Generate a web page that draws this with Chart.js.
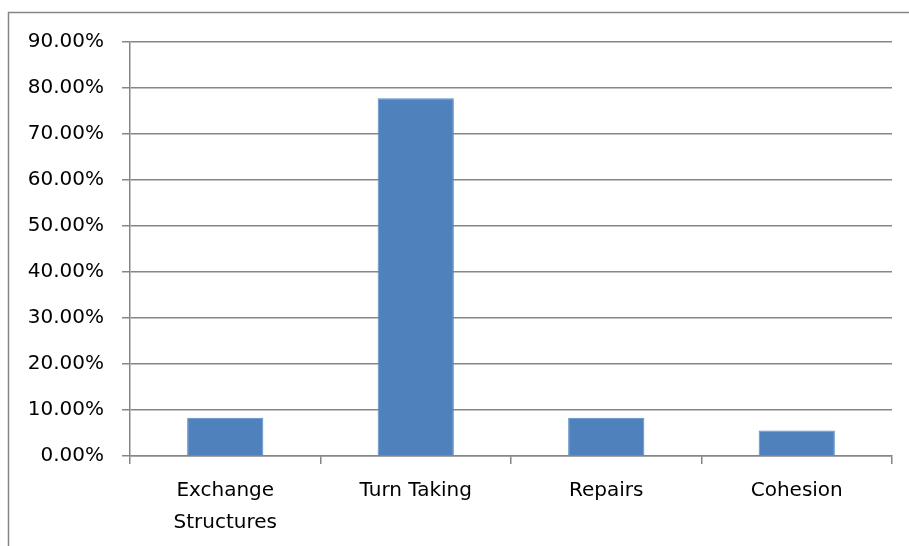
<!DOCTYPE html>
<html><head><meta charset="utf-8">
<script src="https://cdn.jsdelivr.net/npm/chart.js@4/dist/chart.umd.min.js"></script>
<style>html,body{margin:0;padding:0;background:#fff;}#wrap{position:relative;width:909px;height:546px;}</style>
</head><body><div id="wrap"><canvas id="c" width="909" height="546"></canvas></div>
<script>
const categories = [["Exchange","Structures"], "Turn Taking", "Repairs", "Cohesion"];
const values = [8.33, 77.78, 8.33, 5.56];
const yTicks = [0, 10, 20, 30, 40, 50, 60, 70, 80, 90];

const frame = {
  id: 'frame',
  beforeDraw(chart) {
    const ctx = chart.ctx;
    ctx.save();
    ctx.fillStyle = '#fff';
    ctx.fillRect(0, 0, chart.width, chart.height);
    ctx.strokeStyle = '#868686';
    ctx.lineWidth = 1.5;
    ctx.strokeRect(8.5, 12.5, 920, 600);
    ctx.restore();
  }
};

new Chart(document.getElementById('c'), {
  type: 'bar',
  data: { labels: categories, datasets: [{ data: values, backgroundColor: '#4F81BD', borderColor: '#5a8cc6', borderWidth: 1, barPercentage: 0.4, categoryPercentage: 1 }] },
  plugins: [frame],
  options: {
    responsive: false, animation: false,
    layout: { padding: { top: 42, right: 17, left: 0, bottom: 0 } },
    plugins: { legend: { display: false }, tooltip: { enabled: false } },
    scales: {
      x: {
        afterFit(s) { s.height = 90; },
        grid: { display: true, drawOnChartArea: false, drawTicks: true, tickLength: 8, color: '#868686', lineWidth: 1.5, offset: true },
        border: { color: '#868686', width: 1.5 },
        ticks: { color: '#000', padding: 11, maxRotation: 0, font: { family: 'DejaVu Sans', size: 20, lineHeight: 1.6 } }
      },
      y: {
        min: 0, max: 90,
        afterFit(s) { s.width = 130; },
        afterBuildTicks(s) { s.ticks = yTicks.map(v => ({ value: v })); },
        grid: { color: '#868686', lineWidth: 1.5, drawTicks: true, tickLength: 8 },
        border: { color: '#868686', width: 1.5 },
        ticks: { color: '#000', padding: 18, font: { family: 'DejaVu Sans', size: 20 }, callback: v => v.toFixed(2) + '%' }
      }
    }
  }
});
</script></body></html>
